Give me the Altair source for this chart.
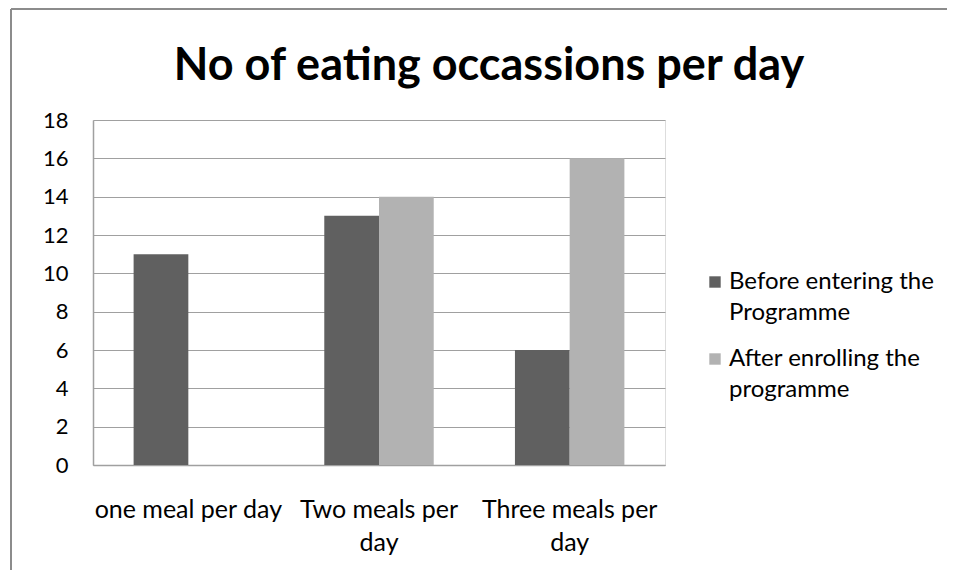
import altair as alt
import pandas as pd

categories = ["one meal per day", "Two meals per day", "Three meals per day"]
series = ["Before entering the Programme", "After enrolling the programme"]
before_values = [11, 13, 6]
after_values = [0, 14, 16]
y_ticks = [0, 2, 4, 6, 8, 10, 12, 14, 16, 18]
series_colors = ["#606060", "#b2b2b2"]
title_text = "No of eating occassions per day"

rows = []
for c, b, a in zip(categories, before_values, after_values):
    rows.append({"category": c, "series": series[0], "value": b})
    rows.append({"category": c, "series": series[1], "value": a})
df = pd.DataFrame(rows)

W, H = 572, 345
FONT = "Lato"
GRID = "#a0a0a0"

bars = alt.Chart(df).mark_bar().encode(
    x=alt.X(
        "category:N", sort=categories,
        scale=alt.Scale(paddingInner=0.426, paddingOuter=0.213),
        axis=alt.Axis(
            title=None, labelAngle=0, ticks=False,
            labelExpr="datum.label == 'one meal per day' ? datum.label : [slice(datum.label, 0, -4), 'day']",
            labelFontSize=25, labelLineHeight=33, labelPadding=44,
            labelBaseline="middle", labelColor="#000000", labelFont=FONT,
            domainColor=GRID, domainWidth=1.5, labelLimit=300,
        ),
    ),
    xOffset=alt.XOffset("series:N", sort=series, scale=alt.Scale(paddingInner=0, paddingOuter=0)),
    y=alt.Y(
        "value:Q",
        scale=alt.Scale(domain=[0, 18], nice=False),
        axis=alt.Axis(
            values=y_ticks, title=None, ticks=False, grid=True, gridColor=GRID,
            gridWidth=1.2, gridOpacity=1, labelPadding=25, labelFontSize=22,
            labelColor="#000000", labelFont=FONT, domainColor=GRID, domainWidth=1.5,
        ),
    ),
    color=alt.Color(
        "series:N", sort=series,
        scale=alt.Scale(domain=series, range=series_colors),
        legend=alt.Legend(
            title=None, orient="none", legendX=610, legendY=150,
            symbolType="square", symbolSize=130, symbolStrokeWidth=0,
            labelExpr="[slice(datum.label, 0, 19), slice(datum.label, 20)]",
            labelFontSize=24, labelFont=FONT, labelColor="#000000",
            labelOffset=2, rowPadding=22, labelLimit=300,
        ),
    ),
)

frame_df = pd.DataFrame({"k": [0]})
left_rule = alt.Chart(frame_df).mark_rule(color="#8c8c8c", strokeWidth=2).encode(
    x=alt.value(-82), y=alt.value(-111), y2=alt.value(450)
)
top_rule = alt.Chart(frame_df).mark_rule(color="#8c8c8c", strokeWidth=2).encode(
    x=alt.value(-82), x2=alt.value(854), y=alt.value(-111)
)

chart = alt.layer(left_rule, top_rule, bars).properties(
    width=W, height=H,
    padding={"left": 2, "top": 0, "right": 0, "bottom": 0},
    title=alt.TitleParams(
        text=title_text, font=FONT, fontSize=45, fontWeight="bold", color="#000000",
        anchor="middle", frame="group", orient="top", baseline="alphabetic",
        offset=-117, dx=110,
    ),
).configure_view(stroke=None).configure(
    font=FONT, style={"guide-label": {"lineHeight": 31}}
)

chart.save("out.html", embed_options={"renderer": "svg", "actions": False})
